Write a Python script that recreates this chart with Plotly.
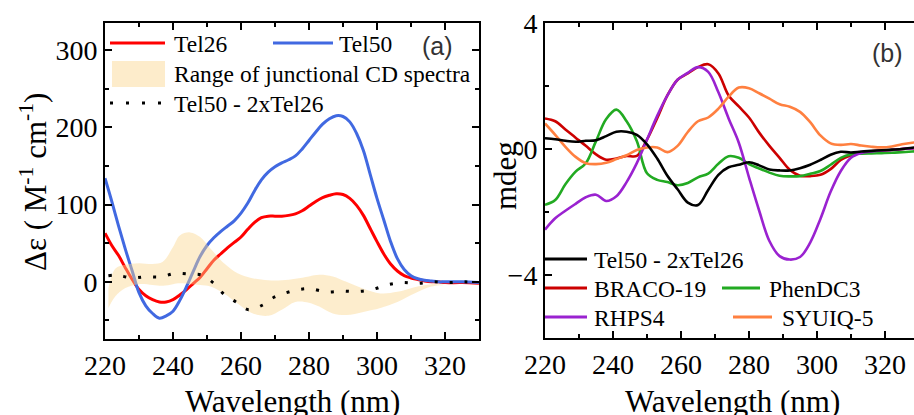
import plotly.graph_objects as go

W, H = 914, 415
SERIF = "Liberation Serif"
SANS = "Liberation Sans"

# ---- (a) molar CD spectra ----
wl_a = [220, 222, 224, 226, 228, 230, 232, 234, 236, 238, 240, 242, 244, 246, 248,
        250, 252, 254, 256, 258, 260, 262, 264, 266, 268, 270, 272, 274, 276, 278,
        280, 282, 284, 286, 288, 290, 292, 294, 296, 298, 300, 302, 304, 306, 308,
        310, 312, 314, 316, 318, 320, 325, 330]
tel50 = [134, 104, 72, 42, 14, -14, -31, -41, -47, -44, -38, -24, -6, 14, 33,
         47, 57, 65, 72, 79, 89, 102, 118, 132, 142, 149, 154, 158, 163, 172,
         183, 194, 204, 211, 215, 214, 207, 192, 170, 139, 108, 80, 52, 30, 16,
         8, 4, 2, 1, 0, 0, 0, -1]
tel26 = [63, 47, 34, 18, 3, -10, -18, -23, -26, -26, -23, -17, -10, -2, 6,
         17, 28, 36, 44, 51, 58, 68, 77, 83, 85, 85, 85, 86, 88, 92,
         98, 104, 109, 112, 114, 113, 108, 99, 86, 69, 52, 36, 23, 14, 8,
         5, 3, 1, 0, 0, -1, -1, -2]

wl_diff = [221, 223.4, 227.8, 232, 236.5, 240.6, 245, 248.4, 252, 255, 258.5, 262.2,
           266.4, 269.7, 273.4, 277, 280.5, 285, 289.6, 294.2, 298.6, 303, 307.4,
           311.9, 316.4, 321, 325.6, 330]
diff_a = [8, 8.7, 5.2, 6.5, 6.5, 10.9, 10, 8.7, -2, -16, -26, -36,
          -30, -20, -14, -10, -9, -13, -12, -12.5, -10, -4, -1,
          -2, 0, -1, 0, -1]

wl_band = [221, 223, 226, 230, 234, 237, 240, 242, 245, 248, 251, 255, 259, 263,
           268, 272, 276, 280, 283, 287, 291, 296, 301, 306, 311, 316, 320]
band_hi = [-8, 17, 22, 24, 23, 26, 45, 60, 64, 58, 43, 24, 11, 5,
           2, 2, 4, 7, 9, 7, 0, -9, -15, -13, -7, -3, -4]
band_lo = [-34, -19, -8, -3, -4, -5, -3, -2, -3, -4, -6, -15, -28, -40,
           -44, -36, -26, -27, -32, -41, -43, -39, -34, -26, -15, -6, -4]

# ---- (b) ligand-induced spectra ----
wl_b = [220, 223, 226, 229, 232, 235, 238, 241, 244, 247, 250, 253, 256, 259, 262,
        265, 268, 271, 274, 277, 280, 283, 286, 289, 292, 295, 298, 301, 304, 307,
        310, 313, 316, 319, 322, 325, 328, 330]
diff_b = [0.34, 0.31, 0.26, 0.23, 0.26, 0.28, 0.41, 0.55, 0.55, 0.45, 0.15, -0.3, -0.85,
          -1.28, -1.7, -1.78, -1.3, -0.82, -0.58, -0.5, -0.42, -0.52, -0.65, -0.68,
          -0.68, -0.61, -0.5, -0.35, -0.18, -0.09, -0.11, -0.08, -0.06, -0.04, -0.02,
          0.0, 0.04, 0.06]
braco19 = [0.97, 0.88, 0.62, 0.36, 0.1, -0.17, -0.34, -0.3, -0.22, -0.22, 0.3, 0.98, 1.7,
           2.2, 2.4, 2.6, 2.69, 2.4, 1.7, 1.35, 1.0, 0.52, 0.1, -0.28, -0.66, -0.85,
           -0.86, -0.82, -0.64, -0.35, -0.2, -0.12, -0.07, -0.05, -0.03, 0.0, 0.02, 0.03]
rhps4 = [-2.56, -2.2, -1.96, -1.74, -1.53, -1.45, -1.65, -1.5, -1.05, -0.45, 0.3, 1.05,
         1.7, 2.2, 2.42, 2.6, 2.45, 1.8, 0.97, 0.2, -0.9, -1.96, -2.92, -3.4, -3.51,
         -3.43, -2.97, -2.22, -1.36, -0.7, -0.28, -0.13, -0.08, -0.05, -0.03, 0.0, 0.02, 0.03]
phendc3 = [-1.77, -1.62, -1.12, -0.72, -0.45, 0.25, 0.95, 1.25, 0.88, 0.25, -0.77, -0.98,
           -1.05, -1.15, -1.08, -0.9, -0.78, -0.47, -0.23, -0.28, -0.48, -0.62, -0.75,
           -0.85, -0.87, -0.86, -0.79, -0.7, -0.5, -0.28, -0.17, -0.15, -0.14, -0.13,
           -0.12, -0.1, -0.08, -0.07]
syuiq5 = [0.81, 0.45, 0.07, -0.25, -0.45, -0.48, -0.44, -0.32, -0.2, -0.03, 0.05, 0.05,
          -0.1, 0.1, 0.54, 0.88, 1.0, 1.28, 1.66, 1.95, 1.93, 1.77, 1.6, 1.42, 1.34,
          1.18, 0.85, 0.43, 0.18, 0.13, 0.16, 0.11, 0.07, 0.05, 0.08, 0.15, 0.2, 0.22]

C_TEL26 = "#FF0000"
C_TEL50 = "#4169E1"
C_BAND = "rgba(250,214,145,0.45)"
C_BAND_KEY = "rgb(253,236,203)"
C_BRACO = "#CC0000"
C_PHEN = "#22AA22"
C_RHPS = "#9A22D0"
C_SYUIQ = "#FF8040"


def px(x):
    return x / W


def py(y):
    return (H - y) / H


fig = go.Figure()

# panel (a)
fig.add_trace(go.Scatter(x=wl_a, y=tel26, mode="lines", line=dict(color=C_TEL26, width=3, shape="spline"),
                         xaxis="x", yaxis="y", showlegend=False))
fig.add_trace(go.Scatter(x=wl_a, y=tel50, mode="lines", line=dict(color=C_TEL50, width=3, shape="spline"),
                         xaxis="x", yaxis="y", showlegend=False))
fig.add_trace(go.Scatter(x=wl_band + wl_band[::-1], y=band_hi + band_lo[::-1], mode="lines",
                         fill="toself", fillcolor=C_BAND, line=dict(width=0, shape="spline"),
                         xaxis="x", yaxis="y", showlegend=False, hoverinfo="skip"))
fig.add_trace(go.Scatter(x=wl_diff, y=diff_a, mode="lines",
                         line=dict(color="black", width=3, dash="3px,12px", shape="spline"),
                         xaxis="x", yaxis="y", showlegend=False))

# panel (b): coloured ligand spectra first, difference spectrum on top
for vals, col in [(braco19, C_BRACO), (phendc3, C_PHEN), (rhps4, C_RHPS),
                  (syuiq5, C_SYUIQ), (diff_b, "black")]:
    fig.add_trace(go.Scatter(x=wl_b, y=vals, mode="lines", line=dict(color=col, width=2.6, shape="spline"),
                             xaxis="x2", yaxis="y2", showlegend=False))

axis_common = dict(showline=True, linecolor="black", linewidth=2, ticks="inside", ticklen=7,
                   tickwidth=1.5, tickcolor="black", showgrid=False, zeroline=False,
                   automargin=False,
                   tickfont=dict(family=SERIF, size=28, color="black"))


def minor(step):
    return dict(dtick=step, ticks="inside", ticklen=4, tickwidth=1.5, tickcolor="black")


fig.update_layout(
    template="none",
    width=W, height=H, margin=dict(l=0, r=0, t=0, b=0, autoexpand=False),
    paper_bgcolor="white", plot_bgcolor="white",
    xaxis=dict(domain=[px(105), px(479)], range=[220, 330], tick0=220, dtick=20,
               mirror="ticks", anchor="y", minor=minor(10), **axis_common),
    yaxis=dict(domain=[py(339), py(23)], range=[-74, 335], tick0=0, dtick=100,
               mirror="ticks", anchor="x", minor=minor(50), **axis_common),
    xaxis2=dict(domain=[px(545), 1.0], range=[220, 220 + (914 - 545) / 3.4], tick0=220, dtick=20,
                mirror="ticks", anchor="y2", minor=minor(10), **axis_common),
    yaxis2=dict(domain=[py(338), py(23)], range=[-6, 4], tick0=0, dtick=4,
                mirror=False, anchor="x2", minor=minor(2), **axis_common),
)

ann = []


def text(x, y, s, size=23.5, family=SERIF, color="black", xanchor="left", angle=0):
    ann.append(dict(x=px(x), y=py(y), xref="paper", yref="paper", text=s, showarrow=False,
                    xanchor=xanchor, yanchor="middle", textangle=angle,
                    font=dict(family=family, size=size, color=color)))


shapes = []


def key_line(x0, x1, y, color, width=3, dash=None):
    ln = dict(color=color, width=width)
    if dash:
        ln["dash"] = dash
    shapes.append(dict(type="line", xref="paper", yref="paper", x0=px(x0), x1=px(x1),
                       y0=py(y), y1=py(y), line=ln))


# axis titles
text(292, 401, "Wavelength (nm)", size=31, xanchor="center")
text(732, 401, "Wavelength (nm)", size=31, xanchor="center")
text(33, 182, "Δε ( M<sup>-1</sup> cm<sup>-1</sup>)", size=31, xanchor="center", angle=-90)
text(505, 176, "mdeg", size=31, xanchor="center", angle=-90)

# panel tags
text(437, 46, "(a)", size=25, family=SANS, color="#333333", xanchor="center")
text(887, 53, "(b)", size=25, family=SANS, color="#333333", xanchor="center")

# key for (a)
key_line(110, 165, 43, C_TEL26)
text(172, 44, "Tel26")
key_line(273, 333, 43, C_TEL50)
text(337, 44, "Tel50")
shapes.append(dict(type="rect", xref="paper", yref="paper", x0=px(112), x1=px(165),
                   y0=py(87), y1=py(61), fillcolor=C_BAND_KEY, line=dict(width=0)))
text(172, 74, "Range of junctional CD spectra")
key_line(110, 165, 103, "black", width=3, dash="3px,13px")
text(172, 104, "Tel50 - 2xTel26")

# key for (b)
key_line(545, 587, 259, "black")
text(592, 260, "Tel50 - 2xTel26")
key_line(545, 587, 288, C_BRACO)
text(592, 289, "BRACO-19")
key_line(722, 760, 288, C_PHEN)
text(767, 289, "PhenDC3")
key_line(545, 587, 317, C_RHPS)
text(592, 318, "RHPS4")
key_line(733, 772, 317, C_SYUIQ)
text(780, 318, "SYUIQ-5")

fig.update_layout(annotations=ann, shapes=shapes)
fig.write_html("out.html")
